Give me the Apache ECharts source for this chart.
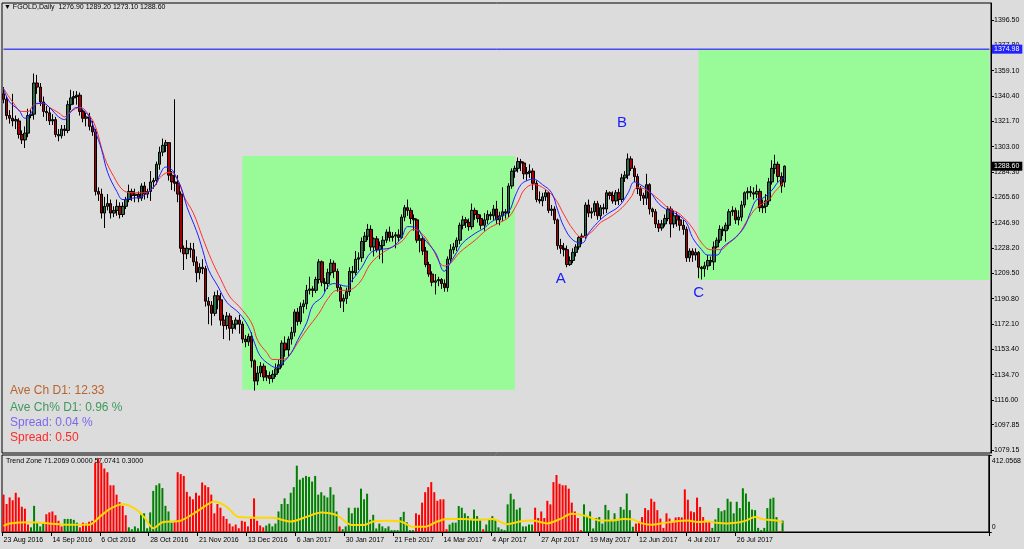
<!DOCTYPE html>
<html><head><meta charset="utf-8">
<script src="https://cdn.jsdelivr.net/npm/echarts@6/dist/echarts.min.js"></script>
<style>html,body{margin:0;padding:0;background:#dcdcdc}#c{width:1024px;height:549px}</style>
</head><body><div id="c"></div>
<script>
// ---------- data ----------
const dateTicks = ['23 Aug 2016','14 Sep 2016','6 Oct 2016','28 Oct 2016','21 Nov 2016','13 Dec 2016','6 Jan 2017','30 Jan 2017','21 Feb 2017','14 Mar 2017','4 Apr 2017','27 Apr 2017','19 May 2017','12 Jun 2017','4 Jul 2017','26 Jul 2017'];
const barsPerTick = 16;
const slotCount = 323; // visible bar slots incl. empty space on the right

const open = [
1342,1338,1326,1324,1322,1322,1312,1308,1313,1326,
1327,1350,1347,1336,1329,1328,1322,1323,1312,1311,
1316,1315,1334,1339,1340,1341,1329,1324,1325,1318,
1314,1270,1268,1254,1259,1261,1254,1256,1259,1253,
1259,1264,1270,1267,1268,1265,1274,1268,1270,1277,
1278,1290,1299,1304,1306,1282,1277,1276,1268,1228,
1224,1228,1227,1218,1210,1214,1213,1189,1186,1180,
1193,1190,1175,1171,1178,1169,1172,1175,1172,1161,
1159,1163,1145,1130,1136,1141,1133,1134,1132,1135,
1139,1142,1158,1153,1161,1166,1181,1174,1185,1187,
1197,1198,1197,1205,1218,1203,1202,1210,1217,1211,
1199,1189,1191,1196,1211,1210,1220,1221,1233,1237,
1242,1229,1235,1227,1230,1234,1240,1236,1237,1238,
1236,1251,1258,1256,1250,1249,1234,1235,1226,1216,
1209,1203,1204,1205,1202,1199,1220,1227,1229,1234,
1245,1249,1247,1244,1256,1253,1250,1245,1249,1253,
1252,1257,1249,1252,1255,1254,1274,1285,1287,1292,
1291,1283,1284,1285,1276,1264,1263,1266,1269,1256,
1257,1249,1230,1228,1227,1216,1219,1225,1229,1236,
1237,1260,1254,1255,1261,1252,1258,1257,1269,1267,
1263,1269,1264,1280,1282,1294,1287,1281,1272,1267,
1265,1275,1257,1255,1246,1243,1246,1250,1257,1246,
1252,1249,1245,1242,1221,1226,1223,1225,1214,1213,
1215,1219,1218,1229,1234,1242,1241,1245,1255,1256,
1249,1251,1260,1269,1270,1269,1268,1270,1258,1259,
1263,1277,1287,1290,1281,1276.9];
const close = [
1338,1326,1324,1322,1323,1312,1308,1313,1326,1327,
1350,1347,1336,1329,1328,1322,1323,1312,1311,1316,
1315,1334,1339,1340,1341,1329,1324,1325,1318,1314,
1270,1268,1254,1259,1261,1254,1256,1259,1253,1259,
1264,1270,1267,1268,1265,1274,1268,1270,1277,1278,
1290,1299,1304,1306,1282,1277,1276,1268,1228,1224,
1228,1227,1218,1210,1214,1213,1189,1186,1180,1193,
1190,1175,1171,1178,1169,1172,1175,1172,1161,1159,
1163,1145,1130,1136,1141,1133,1134,1132,1135,1139,
1142,1158,1153,1161,1166,1181,1174,1185,1187,1197,
1198,1197,1205,1218,1203,1202,1210,1217,1211,1199,
1189,1191,1196,1211,1210,1220,1221,1233,1237,1242,
1229,1235,1227,1230,1234,1240,1236,1237,1238,1236,
1251,1258,1256,1250,1249,1234,1235,1226,1216,1209,
1203,1204,1205,1202,1199,1220,1227,1229,1234,1245,
1249,1247,1244,1256,1253,1250,1245,1249,1253,1252,
1257,1249,1252,1255,1254,1274,1285,1287,1292,1291,
1283,1284,1285,1276,1264,1263,1266,1269,1256,1257,
1249,1230,1228,1227,1216,1219,1225,1229,1236,1237,
1260,1254,1255,1261,1252,1258,1257,1269,1267,1263,
1269,1264,1280,1282,1294,1287,1281,1272,1267,1265,
1275,1257,1255,1246,1243,1246,1250,1257,1246,1252,
1249,1245,1242,1221,1226,1223,1225,1214,1213,1215,
1219,1218,1229,1234,1242,1241,1245,1255,1256,1249,
1251,1260,1269,1270,1269,1268,1270,1258,1259,1263,
1277,1287,1290,1281,1274,1288.6];
const high = [
1347,1340,1330,1342,1326,1324,1315,1318,1331,1331,
1357,1356,1350,1340,1333,1332,1327,1325,1316,1319,
1319,1337,1345,1344,1344,1343,1331,1328,1328,1322,
1316,1273,1272,1266,1268,1264,1259,1264,1262,1262,
1266,1275,1272,1272,1270,1276,1277,1272,1285,1280,
1292,1303,1309,1308,1306,1285,1338,1282,1270,1230,
1234,1232,1232,1222,1217,1220,1215,1192,1189,1196,
1197,1195,1179,1181,1180,1175,1177,1179,1174,1164,
1165,1166,1146,1141,1144,1143,1138,1137,1138,1143,
1146,1160,1163,1163,1170,1183,1184,1188,1190,1201,
1207,1200,1207,1220,1219,1206,1213,1220,1219,1213,
1201,1194,1199,1214,1215,1226,1225,1236,1240,1246,
1245,1236,1237,1233,1237,1242,1244,1240,1240,1242,
1253,1260,1264,1258,1253,1250,1238,1237,1229,1218,
1211,1209,1207,1206,1205,1222,1231,1232,1236,1247,
1252,1251,1250,1261,1258,1256,1253,1254,1256,1255,
1260,1263,1255,1273,1257,1276,1287,1289,1295,1294,
1292,1288,1290,1287,1278,1270,1269,1271,1270,1260,
1259,1250,1235,1232,1230,1222,1228,1231,1237,1239,
1262,1264,1258,1263,1263,1260,1261,1271,1270,1270,
1271,1272,1283,1285,1298,1296,1289,1283,1274,1269,
1283,1276,1258,1257,1249,1249,1253,1259,1259,1256,
1255,1252,1249,1244,1228,1228,1228,1226,1215,1218,
1223,1222,1233,1236,1245,1244,1247,1257,1259,1258,
1256,1263,1270,1273,1274,1273,1275,1272,1264,1268,
1280,1293,1297,1292,1284,1289.2];
const low = [
1335,1323,1320,1318,1316,1309,1305,1302,1310,1324,
1323,1342,1333,1325,1322,1319,1319,1310,1307,1309,
1311,1313,1330,1334,1334,1326,1321,1318,1315,1311,
1267,1263,1250,1243,1256,1250,1251,1252,1250,1251,
1257,1262,1263,1262,1262,1263,1264,1265,1263,1272,
1275,1286,1296,1299,1278,1271,1270,1262,1225,1212,
1220,1221,1215,1203,1205,1209,1185,1172,1171,1178,
1183,1171,1161,1168,1160,1165,1168,1165,1158,1155,
1156,1140,1123,1127,1133,1130,1130,1128,1129,1133,
1136,1140,1148,1148,1157,1163,1171,1172,1180,1183,
1194,1192,1195,1202,1200,1196,1198,1208,1206,1196,
1184,1181,1187,1193,1203,1208,1212,1218,1226,1234,
1226,1222,1225,1220,1217,1232,1233,1233,1228,1233,
1235,1248,1252,1246,1241,1232,1225,1223,1214,1207,
1200,1194,1200,1198,1196,1196,1218,1224,1226,1231,
1242,1243,1241,1242,1249,1247,1242,1241,1246,1249,
1249,1246,1245,1248,1250,1251,1272,1280,1284,1285,
1279,1278,1280,1271,1262,1261,1259,1263,1254,1252,
1246,1227,1224,1222,1214,1215,1217,1222,1227,1231,
1235,1251,1250,1252,1249,1249,1253,1254,1264,1261,
1260,1260,1262,1277,1279,1285,1277,1268,1263,1260,
1260,1253,1251,1243,1240,1241,1244,1248,1236,1243,
1244,1241,1238,1218,1218,1218,1219,1206,1205,1207,
1212,1215,1212,1228,1232,1237,1233,1242,1252,1246,
1245,1248,1258,1264,1266,1264,1265,1255,1254,1254,
1260,1275,1283,1277,1269,1273.1];

// moving averages: [bar index, price]
const maFast = [[0,1345.6],[2,1336],[5,1330],[7,1324],[9,1328],[11,1335],[13,1335],[15,1332],[18,1325],[20,1323],[21,1326],[24,1332],[26,1330],[28,1325],[30,1314],[32,1301],[34,1284],[37,1270],[39,1264],[42,1265],[45,1266],[47,1269],[50,1276],[51,1282],[53,1288],[55,1286],[56,1282],[58,1273],[60,1258],[63,1241],[65,1227],[67,1212],[70,1200],[73,1188],[77,1180],[80,1170],[82,1158],[84,1148],[87,1142],[89,1140],[91,1143],[94,1151],[96,1160],[99,1173],[101,1186],[104,1192],[106,1200],[108,1202],[110,1201],[112,1200],[114,1205],[117,1214],[120,1225],[123,1227],[127,1229],[130,1236],[132,1244],[135,1243],[137,1236],[141,1225],[144,1211],[145,1214],[148,1225],[150,1232],[154,1239],[157,1243],[159,1247],[162,1251],[165,1255],[167,1266],[169,1275],[171,1278],[173,1279],[176,1275],[179,1269],[181,1256],[183,1244],[186,1234],[189,1232],[191,1239],[194,1247],[197,1253],[201,1259],[204,1269],[206,1277],[208,1275],[211,1270],[214,1261],[217,1256],[220,1253],[223,1247],[225,1236],[228,1227],[230,1223],[233,1223],[235,1229],[239,1236],[242,1244],[244,1255],[246,1264],[248,1265],[251,1271],[253,1277],[255,1280]];
const maSlow = [[0,1346],[3,1336],[6,1329],[8,1329],[10,1334],[13,1335],[15,1332],[18,1328],[20,1325],[22,1329],[25,1332],[28,1326],[30,1318],[33,1295],[36,1281],[39,1271],[42,1269],[46,1269],[49,1273],[51,1280],[54,1284],[55,1284],[57,1278],[59,1266],[62,1254],[65,1236],[68,1219],[71,1205],[74,1192],[77,1185],[81,1173],[83,1160],[86,1151],[88,1146],[91,1146],[93,1148],[96,1158],[99,1168],[103,1180],[106,1191],[109,1197],[112,1197],[116,1202],[120,1217],[124,1225],[127,1229],[130,1233],[134,1242],[137,1238],[140,1228],[144,1215],[146,1217],[149,1225],[154,1234],[158,1242],[162,1247],[165,1251],[168,1262],[170,1271],[173,1275],[176,1273],[180,1265],[183,1253],[186,1242],[189,1236],[192,1240],[195,1247],[198,1251],[202,1258],[205,1266],[207,1273],[210,1271],[214,1264],[217,1258],[221,1253],[225,1243],[228,1232],[231,1227],[234,1227],[237,1232],[240,1238],[243,1249],[246,1258],[250,1264],[252,1270],[255,1277]];

// Trend Zone histogram: positive = green, negative = red
const trendZone = [
-200,-150,-185,-170,-210,-185,-135,-125,-40,25,
140,50,30,45,-95,-105,-110,-90,-60,-30,
70,70,70,65,50,-25,-50,-45,-55,-60,
-370,-395,-370,-340,-320,-250,-250,-200,-160,-140,
-90,25,15,30,20,95,100,20,105,220,
250,260,235,140,110,50,-60,-320,-310,-300,
-215,-190,-175,-210,-195,-265,-250,-240,-200,-100,
-150,-130,-85,-70,-45,-30,-40,-20,-60,-55,
-30,-70,-180,-60,-35,-25,35,45,30,45,
110,150,180,150,210,240,355,280,290,300,
295,270,300,200,213,195,185,240,200,110,
-30,15,30,130,100,130,130,232,175,205,
65,92,19,45,30,20,30,10,10,10,
80,108,52,10,10,-100,-92,-157,-213,-240,
-267,-213,-167,-175,-175,-15,40,50,50,139,
130,100,85,70,120,85,70,-15,40,65,
85,65,25,15,10,148,205,175,120,130,
30,30,40,40,-130,-75,-110,-75,-167,-148,
-267,-305,-258,-250,-250,-232,-157,-110,-75,-10,
148,85,110,19,75,80,45,145,117,61,
100,61,134,120,206,117,28,-45,-56,-80,
-128,-117,-178,-162,-117,-72,-22,-100,-72,-56,
-78,-80,-78,-228,-173,-111,-106,-184,-134,-80,
-56,-56,22,67,128,111,117,178,162,100,
162,128,234,206,162,120,117,22,10,22,
128,178,184,80,-5,61];
const trendSignal = [[0,33],[2,46],[9,52],[15,46],[21,39],[28,39],[32,89],[35,125],[39,148],[43,125],[46,80],[49,20],[52,52],[58,61],[64,117],[69,163],[73,135],[77,80],[84,76],[88,76],[94,56],[99,80],[104,104],[109,90],[114,37],[118,37],[121,56],[125,60],[130,56],[134,28],[138,28],[142,56],[145,70],[150,70],[156,65],[160,70],[165,42],[169,56],[173,61],[178,46],[182,68],[186,97],[191,84],[195,62],[199,61],[203,70],[206,67],[209,46],[212,39],[216,48],[221,59],[224,61],[227,54],[231,56],[233,50],[237,46],[241,52],[243,61],[246,80],[249,67],[253,61],[255,50]];

const priceTicks = [1396.50,1377.80,1359.10,1340.40,1321.70,1303.00,1284.30,1265.60,1246.90,1228.20,1209.50,1190.80,1172.10,1153.40,1134.70,1116.00,1097.85,1079.15];
const zoneTicks = [0, 412.0568];
const levelLine = 1374.98;
const lastPrice = 1288.60;
// green zones: [startBar, endBar, top, bottom]  (endBar -1 = right edge)
const zones = [[78,167,1296.1,1123.7],[227,-1,1374.2,1204.6]];
const waveNames = ['A','B','C'];
const waveBars = [182,202,227];
const wavePrices = [1205.4,1320.5,1195.0];
const infoTexts = ['Ave Ch D1: 12.33','Ave Ch% D1: 0.96 %','Spread: 0.04 %','Spread: 0.50'];
const infoColors = ['#b8642e','#3f9a5e','#7b68ee','#ff2a2a'];

// ---------- build ----------
const FF = 'Liberation Sans';
const categories = [];
for (let i = 0; i < slotCount; i++) {
  const k = i / barsPerTick;
  categories.push(i % barsPerTick === 0 && k < dateTicks.length ? dateTicks[k] : 'bar' + i);
}
const showTick = (idx) => idx % barsPerTick === 0 && idx / barsPerTick < dateTicks.length;
const candles = open.map((o, i) => [o, close[i], low[i], high[i]]);
const hist = trendZone.map(v => ({value: Math.abs(v), itemStyle: {color: v >= 0 ? '#008000' : '#ff0000'}}));

const titles = [
  {text: '▼ FGOLD,Daily  1276.90 1289.20 1273.10 1288.60', left: 4, top: 4, padding: 0,
   textStyle: {fontSize: 7, color: '#000', fontWeight: 'normal', fontFamily: FF}},
  {text: 'Trend Zone 71.2069 0.0000 57.0741 0.3000', left: 6, top: 458, padding: 0,
   textStyle: {fontSize: 7, color: '#000', fontWeight: 'normal', fontFamily: FF}}
];
infoTexts.forEach((t, k) => titles.push({text: t, left: 10, top: [385, 402, 417, 432][k], padding: 0,
  textStyle: {fontSize: 12, color: infoColors[k], fontWeight: 'normal', fontFamily: FF}}));

const chart = echarts.init(document.getElementById('c'), null, {renderer: 'canvas'});
chart.setOption({
  backgroundColor: '#dcdcdc',
  animation: false,
  title: titles,
  grid: [
    {left: 2, right: 33, top: 3, height: 450, show: true, borderColor: '#000', borderWidth: 1},
    {left: 2, right: 33, top: 455, height: 77, show: true, borderColor: '#000', borderWidth: 1}
  ],
  xAxis: [
    {type: 'category', gridIndex: 0, data: categories, show: false},
    {type: 'category', gridIndex: 1, data: categories,
     axisLine: {show: true, lineStyle: {color: '#000'}},
     axisTick: {show: true, interval: showTick, length: 4, lineStyle: {color: '#000'}},
     axisLabel: {show: true, interval: showTick, align: 'left', fontSize: 7, color: '#000', margin: 5, fontFamily: FF},
     splitLine: {show: false}}
  ],
  yAxis: [
    {type: 'value', gridIndex: 0, position: 'right', min: 1076.94, max: 1409.05, scale: true,
     axisLine: {show: true, lineStyle: {color: '#000'}},
     axisTick: {show: true, length: 3, customValues: priceTicks, lineStyle: {color: '#000'}},
     axisLabel: {show: true, customValues: priceTicks, formatter: v => v.toFixed(2), fontSize: 7, color: '#000', margin: 3, fontFamily: FF},
     splitLine: {show: false}},
    {type: 'value', gridIndex: 1, position: 'right', min: 0, max: 412.0568,
     axisLine: {show: true, lineStyle: {color: '#000'}},
     axisTick: {show: true, length: 3, customValues: zoneTicks, lineStyle: {color: '#000'}},
     axisLabel: {show: true, customValues: zoneTicks, margin: 3,
       formatter: v => v === 0 ? '{b|0}' : '{t|412.0568}',
       rich: {t: {fontSize: 7, color: '#000', fontFamily: FF, padding: [12, 0, 0, 0]},
              b: {fontSize: 7, color: '#000', fontFamily: FF, padding: [0, 0, 10, 0]}}},
     splitLine: {show: false}}
  ],
  series: [
    {type: 'line', xAxisIndex: 0, yAxisIndex: 0, data: [], z: 1, silent: true,
     markArea: {silent: true, itemStyle: {color: '#98fb98', opacity: 1},
       data: zones.map(z => [
         {xAxis: categories[z[0]], yAxis: z[2]},
         {xAxis: categories[z[1] < 0 ? slotCount - 1 : z[1]], yAxis: z[3]}])}},
    // horizontal level line
    {type: 'line', xAxisIndex: 0, yAxisIndex: 0, z: 2, silent: true, symbol: 'none',
     data: [[0, levelLine], [slotCount - 1, levelLine]],
     lineStyle: {color: '#0000ff', width: 1, type: 'solid'}},
    // price tags on the right axis
    {type: 'line', xAxisIndex: 0, yAxisIndex: 0, z: 6, silent: true, data: [],
     markLine: {silent: true, symbol: ['none', 'none'],
       lineStyle: {color: 'rgba(0,0,0,0)', width: 1, type: 'solid'},
       label: {show: true, position: 'end', color: '#fff', fontSize: 7, fontFamily: FF, padding: [1, 3, 1, 2], distance: 1},
       data: [
         {yAxis: levelLine, label: {formatter: levelLine.toFixed(2), backgroundColor: '#2222ff'}},
         {yAxis: lastPrice, label: {formatter: lastPrice.toFixed(2), backgroundColor: '#000'}}
       ]}},
    {type: 'candlestick', xAxisIndex: 0, yAxisIndex: 0, data: candles, barWidth: 3, z: 3,
     itemStyle: {color: '#2c6b48', color0: '#a80000', borderColor: '#000', borderColor0: '#000', borderWidth: 1},
     markPoint: {silent: true, symbol: 'rect', symbolSize: 1, itemStyle: {color: 'rgba(0,0,0,0)'},
       label: {show: true, position: 'inside', formatter: '{b}', color: '#1a1aff', fontSize: 15, fontFamily: FF},
       data: waveNames.map((n, k) => ({name: n, coord: [categories[waveBars[k]], wavePrices[k]]}))}},
    {type: 'line', xAxisIndex: 0, yAxisIndex: 0, data: maSlow, smooth: 0.4, symbol: 'none', z: 4,
     lineStyle: {color: '#ff3030', width: 1}},
    {type: 'line', xAxisIndex: 0, yAxisIndex: 0, data: maFast, smooth: 0.4, symbol: 'none', z: 5,
     lineStyle: {color: '#2020ff', width: 1}},
    {type: 'bar', xAxisIndex: 1, yAxisIndex: 1, data: hist, barWidth: 2, z: 2},
    {type: 'line', xAxisIndex: 1, yAxisIndex: 1, data: trendSignal, smooth: 0.3, symbol: 'none', z: 3,
     lineStyle: {color: '#ffd700', width: 2}}
  ]
});
</script></body></html>
